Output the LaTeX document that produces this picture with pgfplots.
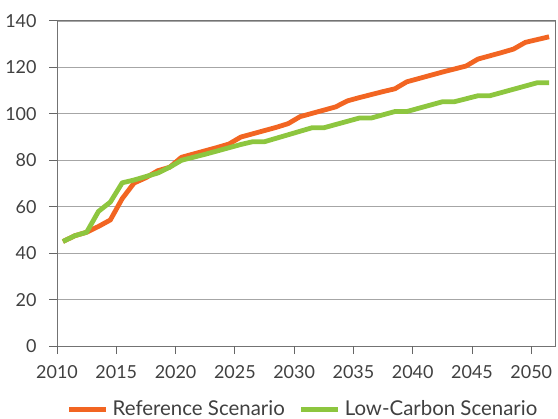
\documentclass[border=0pt]{standalone}
\usepackage{pgfplots}
\pgfplotsset{compat=1.18}
\usepackage{fontspec}
\setmainfont{Lato}
\definecolor{refor}{HTML}{F26522}
\definecolor{lowgr}{HTML}{8DC63F}
\definecolor{txt}{HTML}{404040}
\pgfplotsset{
  every tick label/.append style={font=\fontsize{18}{21}\selectfont, text=txt},
  every x tick label/.append style={yshift=-8bp},
  every y tick label/.append style={xshift=-9bp},
}
\begin{document}
\begin{tikzpicture}
\begin{axis}[
  at={(0,0)}, anchor=south west,
  scale only axis, width=498bp, height=325bp,
  xmin=2010, xmax=2052, ymin=0, ymax=140,
  xtick={2010,2015,...,2050}, ytick={0,20,...,140},
  xticklabels={2010,2015,2020,2025,2030,2035,2040,2045,2050},
  yticklabels={0,20,40,60,80,100,120,140},
  xtick pos=bottom, ytick pos=left,
  tick align=outside,
  major tick length=8bp,
  every tick/.style={draw=black!60, line width=1bp},
  axis line style={draw=black!55, line width=1bp},
  ymajorgrids, grid style={draw=black!35, line width=0.9bp},
  legend style={at={(0.496,-0.194)}, anchor=center, draw=none, fill=none,
    font=\fontsize{20.5}{24}\selectfont, text=txt, legend columns=2,
    /tikz/every even column/.append style={column sep=10bp},
    nodes={inner xsep=4bp}},
  legend image code/.code={\draw[#1, line cap=butt, line width=5bp] (0bp,0bp) -- (37bp,0bp);},
  after end axis/.code={
    \foreach \xx in {2010,2015,...,2050} {\draw[black!60, line width=1bp] (axis cs:\xx,0) -- ++(0,-8bp);}
    \foreach \yy in {0,20,...,140} {\draw[black!60, line width=1bp] (axis cs:2010,\yy) -- ++(-8bp,0);}
  },
]
\addplot[refor, line width=4.8bp, line join=round] coordinates {
(2010.5,45) (2011.5,47.5) (2012.5,49) (2013.5,51.5) (2014.5,54.3) (2015.5,63.5)
(2016.5,70.2) (2017.5,72.5) (2018.5,75.5) (2019.5,77) (2020.5,81.3) (2021.5,82.7)
(2022.5,84.1) (2023.5,85.5) (2024.5,87) (2025.5,90) (2026.5,91.4) (2027.5,92.8)
(2028.5,94.2) (2029.5,95.8) (2030.5,98.8) (2031.5,100.2) (2032.5,101.6) (2033.5,103)
(2034.5,105.6) (2035.5,107) (2036.5,108.3) (2037.5,109.6) (2038.5,110.8) (2039.5,113.8)
(2040.5,115.2) (2041.5,116.6) (2042.5,118) (2043.5,119.3) (2044.5,120.6) (2045.5,123.6)
(2046.5,125) (2047.5,126.4) (2048.5,127.9) (2049.5,130.8) (2050.5,132) (2051.5,133.2)
};
\addlegendentry{Reference Scenario}
\addplot[lowgr, line width=4.8bp, line join=round] coordinates {
(2010.5,45) (2011.5,47.5) (2012.5,49) (2013.5,58) (2014.5,62) (2015.5,70.3)
(2016.5,71.5) (2017.5,73) (2018.5,74.5) (2019.5,77) (2020.5,80) (2021.5,81.3)
(2022.5,82.6) (2023.5,84) (2024.5,85.4) (2025.5,86.8) (2026.5,88) (2027.5,88)
(2028.5,89.5) (2029.5,91) (2030.5,92.5) (2031.5,94) (2032.5,94) (2033.5,95.4)
(2034.5,96.8) (2035.5,98.2) (2036.5,98.2) (2037.5,99.6) (2038.5,101) (2039.5,101)
(2040.5,102.4) (2041.5,103.8) (2042.5,105.2) (2043.5,105.2) (2044.5,106.5) (2045.5,107.8)
(2046.5,107.8) (2047.5,109.2) (2048.5,110.6) (2049.5,112) (2050.5,113.4) (2051.5,113.4)
};
\addlegendentry{Low-Carbon Scenario}
\end{axis}
\pgfresetboundingbox
\path (-57bp,-73bp) rectangle (501bp,346bp);
\end{tikzpicture}
\end{document}
